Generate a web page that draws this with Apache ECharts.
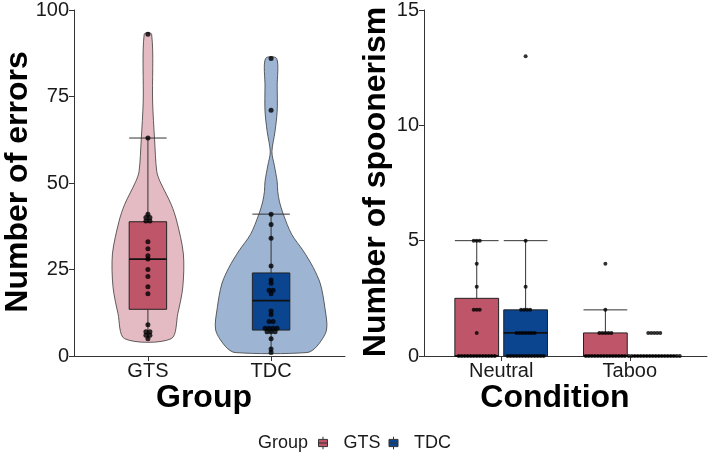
<!DOCTYPE html>
<html><head><meta charset="utf-8">
<script src="https://cdn.jsdelivr.net/npm/echarts@6/dist/echarts.min.js"></script>
<style>html,body{margin:0;padding:0;background:#fff}#c{width:708px;height:455px}</style>
</head><body><div id="c"></div><script>
// ---------- data ----------
const groups = ['GTS', 'TDC'];
const conditions = ['Neutral', 'Taboo'];
const errorTicks = [0, 25, 50, 75, 100];
const spoonTicks = [0, 5, 10, 15];

// Number of errors per participant
const errorsGTS = [93, 63, 41, 40, 40, 39, 39, 33, 31, 29, 28, 25, 23, 20, 18, 9, 7, 7, 6, 6, 5];
const errorsTDC = [86, 71, 41, 38, 34, 26, 22, 21, 19, 19, 18, 13, 12, 10, 10, 8, 8, 8, 8, 7, 7, 7, 5, 2, 1];
// box stats: [lower whisker, Q1, median, Q3, upper whisker]
const errorsBoxGTS = [5, 13.5, 28, 38.8, 63];
const errorsBoxTDC = [1, 7.5, 16, 24, 41];
// violin outline: levels (errors) and relative density (1 = widest violin)
const violinLevelsGTS = [5, 12.3, 20, 29.5, 39, 43.8, 50.4, 53.3, 62.7, 73.4, 93];
const violinDensGTS   = [0.42, 0.54, 0.63, 0.64, 0.52, 0.42, 0.22, 0.16, 0.12, 0.085, 0.067];
const violinLevelsTDC = [1, 2.7, 7.5, 14, 20.8, 25.6, 30.4, 35.2, 41, 44.7, 47.6, 50.4, 55, 59, 64.8, 70.8, 78, 86];
const violinDensTDC   = [0.65, 0.82, 1.0, 0.97, 0.89, 0.76, 0.58, 0.37, 0.22, 0.15, 0.12, 0.11, 0.06, 0.015, 0.07, 0.11, 0.11, 0.1];

// Number of spoonerisms per participant
const spoonNeutralGTS = [5, 5, 5, 4, 3, 2, 2, 2, 1, 0, 0, 0, 0, 0, 0, 0, 0, 0, 0, 0, 0, 0];
const spoonNeutralTDC = [13, 5, 3, 2, 2, 2, 2, 1, 1, 1, 1, 1, 1, 1, 0, 0, 0, 0, 0, 0, 0, 0, 0, 0, 0, 0, 0];
const spoonTabooGTS = [4, 2, 1, 1, 1, 1, 1, 0, 0, 0, 0, 0, 0, 0, 0, 0, 0, 0, 0, 0, 0];
const spoonTabooTDC = [1, 1, 1, 1, 1, 0, 0, 0, 0, 0, 0, 0, 0, 0, 0, 0, 0, 0, 0, 0, 0, 0, 0];
const spoonBoxGTS = [[0, 0, 0, 2.5, 5], [0, 0, 0, 1, 2]];
const spoonBoxTDC = [[0, 0, 1, 2, 5], [0, 0, 0, 0, 0]];

// ---------- styling ----------
const FONT = 'Liberation Sans, Arial, Helvetica, sans-serif';
const boxColor = { GTS: '#bf5569', TDC: '#0b4590' };
const violinColor = { GTS: 'rgba(191,85,105,0.4)', TDC: 'rgba(11,69,144,0.4)' };
const DODGE = 0.19, RBOX = 0.17, LBOX = 0.152, VIOLIN_HALF = 0.45;

// ---------- helpers ----------
const violins = [
  { levels: violinLevelsGTS, dens: violinDensGTS, color: violinColor.GTS },
  { levels: violinLevelsTDC, dens: violinDensTDC, color: violinColor.TDC }
];
function dots(values, x, spacing) {
  const counts = {};
  values.forEach(v => counts[v] = (counts[v] || 0) + 1);
  const out = [];
  Object.keys(counts).forEach(k => {
    const n = counts[k];
    for (let i = 0; i < n; i++) out.push({ value: [x, +k], symbolOffset: [(i - (n - 1) / 2) * spacing, 0] });
  });
  return out;
}
function violinItem(params, api) {
  const v = violins[params.dataIndex];
  const x = api.value(0);
  const unit = api.size([1, 0])[0];
  const right = [], left = [];
  v.levels.forEach((y, i) => {
    const c = api.coord([x, y]);
    const w = v.dens[i] * VIOLIN_HALF * unit;
    right.push([c[0] + w, c[1]]);
    left.push([c[0] - w, c[1]]);
  });
  return { type: 'group', children: [
    { type: 'polygon', shape: { points: right.concat(left.reverse()), smooth: 0.3 },
      style: { fill: v.color, stroke: '#3a3a3a', lineWidth: 0.8 } }
  ] };
}
function boxItemFactory(halfW, col) {
  return function (params, api) {
    const x = api.value(0);
    const lw = api.value(1), q1 = api.value(2), md = api.value(3), q3 = api.value(4), uw = api.value(5);
    const hw = halfW * api.size([1, 0])[0];
    const c = api.coord([x, 0])[0];
    const Y = v => api.coord([x, v])[1];
    const ls = { stroke: '#333', lineWidth: 1 };
    return { type: 'group', children: [
      { type: 'line', shape: { x1: c, y1: Y(q3), x2: c, y2: Y(uw) }, style: ls },
      { type: 'line', shape: { x1: c, y1: Y(q1), x2: c, y2: Y(lw) }, style: ls },
      { type: 'line', shape: { x1: c - hw, y1: Y(uw), x2: c + hw, y2: Y(uw) }, style: ls },
      { type: 'rect', shape: { x: c - hw, y: Y(q3), width: 2 * hw, height: Y(q1) - Y(q3) },
        style: { fill: col, stroke: '#222', lineWidth: 1 } },
      { type: 'line', shape: { x1: c - hw, y1: Y(md), x2: c + hw, y2: Y(md) }, style: { stroke: '#111', lineWidth: 1.8 } }
    ] };
  };
}

// ---------- axes ----------
const labelStyle = { color: '#1a1a1a', fontFamily: FONT, fontSize: 20 };
const axisLine = { show: true, lineStyle: { color: '#333', width: 1 } };
const axisTick = { show: true, length: 5, lineStyle: { color: '#333', width: 1 } };

function xCat(gridIndex, names) {
  return { type: 'value', gridIndex, min: 0.4, max: 2.6, splitLine: { show: false },
    axisLine, axisTick: Object.assign({ customValues: [1, 2] }, axisTick),
    axisLabel: Object.assign({ customValues: [1, 2], margin: 5,
      formatter: v => (Math.abs(v - Math.round(v)) < 1e-6 && names[Math.round(v) - 1]) || '' }, labelStyle) };
}
function yVal(gridIndex, ticks) {
  return { type: 'value', gridIndex, min: ticks[0], max: ticks[ticks.length - 1], interval: ticks[1] - ticks[0],
    splitLine: { show: false }, axisLine, axisTick, axisLabel: Object.assign({ margin: 5 }, labelStyle) };
}
const titleFont = 'bold 32px ' + FONT;
function title(text, x, y, rot) {
  return { type: 'text', x, y, rotation: rot || 0,
    style: { text, font: titleFont, fill: '#000', align: 'center', verticalAlign: 'middle' } };
}

const legendIcon = 'path://M0,3 L10,3 L10,11 L0,11 Z M5,0 L5,3 M5,11 L5,14 M0,7 L10,7';

const option = {
  backgroundColor: '#fff',
  animation: false,
  textStyle: { fontFamily: FONT },
  grid: [
    { left: 74, right: 363, top: 7, bottom: 99 },
    { left: 424, right: 1, top: 8, bottom: 99 }
  ],
  xAxis: [xCat(0, groups), xCat(1, conditions)],
  yAxis: [yVal(0, errorTicks), yVal(1, spoonTicks)],
  legend: {
    left: 318, top: 434, padding: 0, itemWidth: 9, itemHeight: 13, itemGap: 8,
    textStyle: { fontFamily: FONT, fontSize: 18, color: '#1a1a1a', padding: [0, 0, 0, 11] },
    data: groups.map(g => ({ name: g, icon: legendIcon,
      itemStyle: { color: boxColor[g], borderColor: '#333', borderWidth: 1 } }))
  },
  graphic: [
    { type: 'text', x: 258, y: 443, style: { text: 'Group', font: '18px ' + FONT, fill: '#1a1a1a', verticalAlign: 'middle' } },
    title('Group', 204, 398),
    title('Condition', 555, 398),
    title('Number of errors', 18, 182, Math.PI / 2),
    title('Number of spoonerism', 376, 182, Math.PI / 2)
  ],
  series: [
    { type: 'custom', name: 'violin', xAxisIndex: 0, yAxisIndex: 0, renderItem: violinItem,
      data: [[1], [2]], encode: { x: 0 }, silent: true, z: 1 },
    { type: 'custom', name: 'GTS', xAxisIndex: 0, yAxisIndex: 0, itemStyle: { color: boxColor.GTS },
      renderItem: boxItemFactory(LBOX, boxColor.GTS), data: [[1].concat(errorsBoxGTS)], z: 2 },
    { type: 'custom', name: 'TDC', xAxisIndex: 0, yAxisIndex: 0, itemStyle: { color: boxColor.TDC },
      renderItem: boxItemFactory(LBOX, boxColor.TDC), data: [[2].concat(errorsBoxTDC)], z: 2 },
    { type: 'scatter', name: 'errorDots', xAxisIndex: 0, yAxisIndex: 0, symbolSize: 5, z: 3,
      itemStyle: { color: '#000' }, data: dots(errorsGTS, 1, 4).concat(dots(errorsTDC, 2, 4)) },
    { type: 'custom', name: 'GTS', xAxisIndex: 1, yAxisIndex: 1, itemStyle: { color: boxColor.GTS },
      renderItem: boxItemFactory(RBOX, boxColor.GTS),
      data: spoonBoxGTS.map((b, i) => [i + 1 - DODGE].concat(b)), z: 2 },
    { type: 'custom', name: 'TDC', xAxisIndex: 1, yAxisIndex: 1, itemStyle: { color: boxColor.TDC },
      renderItem: boxItemFactory(RBOX, boxColor.TDC),
      data: spoonBoxTDC.map((b, i) => [i + 1 + DODGE].concat(b)), z: 2 },
    { type: 'scatter', name: 'spoonDots', xAxisIndex: 1, yAxisIndex: 1, symbolSize: 4, z: 3,
      itemStyle: { color: '#000' },
      data: [].concat(dots(spoonNeutralGTS, 1 - DODGE, 3), dots(spoonNeutralTDC, 1 + DODGE, 3),
                      dots(spoonTabooGTS, 2 - DODGE, 3), dots(spoonTabooTDC, 2 + DODGE, 3)) }
  ]
};
const chart = echarts.init(document.getElementById('c'), null, { renderer: 'canvas' });
chart.setOption(option);
</script></body></html>
